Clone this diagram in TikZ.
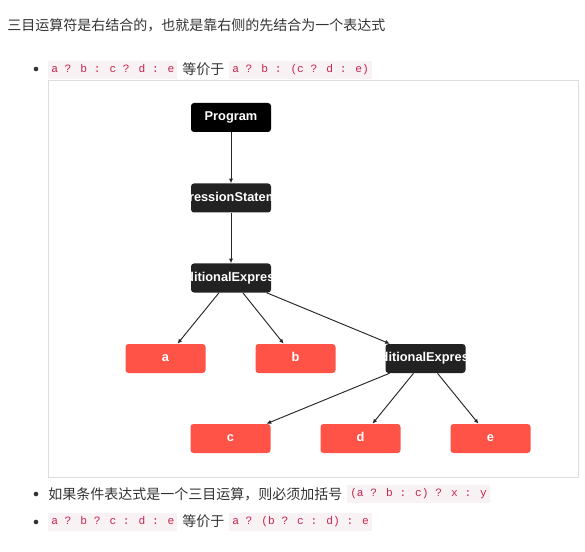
\documentclass[tikz,border=0pt]{standalone}
\usepackage{fontspec}
\setmainfont{Liberation Sans}
\newfontfamily\cjk{Noto Sans CJK SC}
\newfontfamily\codefont{Liberation Mono}
\newfontfamily\boxfont{Liberation Sans}
\usetikzlibrary{arrows.meta}
\definecolor{codebg}{HTML}{F9F2F4}
\definecolor{codefg}{HTML}{C7254E}
\definecolor{txt}{HTML}{333333}
\definecolor{redbox}{HTML}{FF5347}
\definecolor{darkbox}{HTML}{222222}
\definecolor{framec}{HTML}{DDDDDD}
\tikzset{
  cn/.style={anchor=west, inner sep=0pt, text=txt, font=\cjk\fontsize{10.5}{12}\selectfont},
  code/.style={anchor=west, fill=codebg, text=codefg, inner xsep=2.25pt, inner ysep=0pt,
    minimum height=13pt, text height=6.2pt, text depth=1.8pt, font=\codefont\fontsize{8.4}{10}\selectfont},
  tbox/.style={rectangle, rounded corners=2.25pt, minimum width=60pt, minimum height=21.75pt,
    inner sep=0pt, text height=7pt, text depth=2pt, text=white, font=\boxfont\bfseries\fontsize{9.6}{11}\selectfont},
  blackbox/.style={tbox, fill=black},
  greybox/.style={tbox, fill=darkbox},
  leaf/.style={tbox, fill=redbox},
  lbl/.style={inner sep=0pt, text height=7pt, text depth=2pt, text=white, font=\boxfont\bfseries\fontsize{9.6}{11}\selectfont},
  edge/.style={draw=black!85, line width=0.7pt, -{Latex[length=3.5pt,width=3.2pt]}},
  bullet/.style={circle, fill=txt, inner sep=0pt, minimum size=3.5pt}
}
\begin{document}
\begin{tikzpicture}[x=0.75pt,y=-0.75pt]
\useasboundingbox[fill=white] (0,0) rectangle (585,552);
% heading
\node[cn] (head) at (7,25) {三目运算符是右结合的，也就是靠右侧的先结合为一个表达式};
% bullet 1
\node[bullet] (b1) at (36,69) {};
\node[code] (c1) at (48,70) {a ? b : c ? d : e};
\node[cn] (t1) at (182,69) {等价于};
\node[code] (c2) at (229,70) {a ? b : (c ? d : e)};
% frame
\draw[framec, line width=0.75pt] (48.5,80.5) rectangle (578.5,477.5);
% tree
\node[blackbox] (prog) at (231,117.5) {Program};
\node[greybox] (es) at (231,198) {};
\begin{scope}
  \clip (es.south west) rectangle (es.north east);
  \node[lbl] (eslbl) at (es.center) {ExpressionStatement};
\end{scope}
\node[greybox] (ce) at (231,278) {};
\begin{scope}
  \clip (ce.south west) rectangle (ce.north east);
  \node[lbl] (celbl) at (ce.center) {ConditionalExpression};
\end{scope}
\node[leaf] (a) at (165.5,358.5) {a};
\node[leaf] (b) at (295.5,358.5) {b};
\node[greybox] (ce2) at (425.5,358.5) {};
\begin{scope}
  \clip (ce2.south west) rectangle (ce2.north east);
  \node[lbl] (ce2lbl) at (ce2.center) {ConditionalExpression};
\end{scope}
\node[leaf] (c) at (230.5,438.5) {c};
\node[leaf] (d) at (360.5,438.5) {d};
\node[leaf] (e) at (490.5,438.5) {e};
\draw[edge] (prog) -- (es);
\draw[edge] (es) -- (ce);
\draw[edge] (ce) -- (a);
\draw[edge] (ce) -- (b);
\draw[edge] (ce) -- (ce2);
\draw[edge] (ce2) -- (c);
\draw[edge] (ce2) -- (d);
\draw[edge] (ce2) -- (e);
% bullet 2
\node[bullet] (b2) at (36,494) {};
\node[cn] (t2) at (48,494) {如果条件表达式是一个三目运算，则必须加括号};
\node[code] (c3) at (347,494) {(a ? b : c) ? x : y};
% bullet 3
\node[bullet] (b3) at (36,522) {};
\node[code] (c4) at (48,522) {a ? b ? c : d : e};
\node[cn] (t3) at (182,521) {等价于};
\node[code] (c5) at (229,522) {a ? (b ? c : d) : e};
\end{tikzpicture}
\end{document}
